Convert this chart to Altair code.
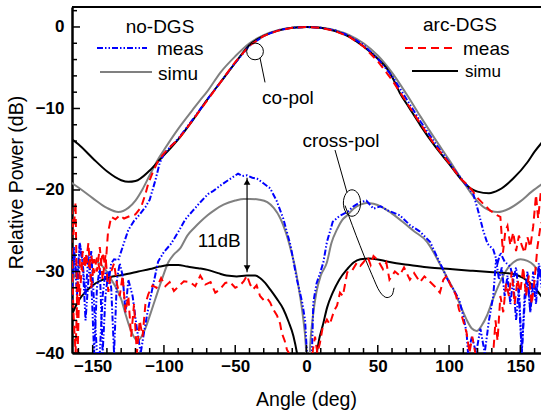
import altair as alt
import pandas as pd

# ---------------- data (angle in deg, relative power in dB) ----------------
# co-pol, arc-DGS, simulated (black)
cop_arc_simu_ang = [-165,-160,-150,-140,-130,-125,-120,-110,-102,-95,-90,-80,-70,-60,-50,-40,-30,-20,-10,0,
                    10,20,30,40,50,56,60,65.5,72,80,90,100,109,115,120,128,135,145,155,160,165]
cop_arc_simu_db = [-13.7,-14.4,-16.1,-17.7,-18.8,-19.0,-18.9,-17.6,-16.1,-14.8,-13.8,-11.5,-9.0,-6.7,-4.4,-2.2,-1.1,-0.45,-0.1,0,
                   -0.1,-0.5,-1.2,-2.4,-3.9,-5.0,-6.1,-8.1,-9.9,-12.1,-14.6,-16.8,-18.8,-19.8,-20.2,-20.4,-20.0,-18.6,-16.6,-15.3,-14.2]

# co-pol, no-DGS, simulated (gray)
cop_no_simu_ang = [-165,-160,-150,-140,-132,-125,-120,-115,-110,-104,-100,-90,-80,-74.7,-70,-60,-50,-40,-30,-20,
                   -10,0,10,20,30,40,50,60,70,80,90,100,110,118,125,134,142,150,158,165]
cop_no_simu_db = [-19.1,-19.7,-21.0,-22.2,-22.7,-22.2,-21.3,-19.9,-18.2,-16.2,-15.1,-12.5,-10.2,-9.0,-8.0,-5.5,-3.6,-2.0,-1.0,-0.4,
                  -0.1,0,-0.1,-0.4,-1.0,-2.0,-3.5,-5.6,-8.2,-11.0,-13.7,-16.3,-19.0,-21.0,-22.2,-22.7,-22.3,-21.4,-20.2,-19.3]

# co-pol, no-DGS, measured (blue)
cop_no_meas_ang = [-165,-163,-161,-159,-157,-155,-153,-151,-149,-147,-145,-143,-141,-139,-137,-135,-132,-129,-125,-121,
                   -117,-113,-110,-106,-103,-100,-95,-90,-80,-70,-60,-50,-40,-30,-20,-10,0,10,20,30,
                   40,50,60,70,80,90,100,105,110,113,117,120,124,127,131,134,136,139,143,145,
                   147,149,151,153,155,157,159,161,163,165]
cop_no_meas_db = [-30,-27,-33,-26.5,-29,-36,-31,-27.5,-34,-40,-40,-33,-30,-31.5,-29,-28.5,-28.6,-27,-24.9,-23.8,
                  -23,-22.1,-21.2,-18.8,-16.7,-15.6,-14.6,-13.7,-11.4,-9.0,-6.7,-4.4,-2.3,-1.1,-0.4,-0.1,0,-0.1,-0.4,-1.1,
                  -2.2,-3.9,-6.0,-8.8,-11.6,-14.2,-16.6,-17.8,-18.9,-19.6,-20.5,-22.3,-25,-26.6,-27.3,-29,-27.7,-28.8,-29.4,-31,
                  -29.5,-33,-40,-34,-31,-35,-30,-33,-29.5,-32]

# co-pol, arc-DGS, measured (red)
cop_arc_meas_ang = [-165,-163.5,-162,-160.5,-159,-157,-155,-153,-151,-149,-147,-145,-143,-141,-139.3,-137,-134,-131,-128,-124,
                    -120,-116,-113,-111,-108,-104,-100,-95,-90,-80,-70,-60,-50,-40,-30,-20,-10,0,10,20,
                    30,40,50,60,70,80,90,100,108,113,116,119.6,124,128.7,133.6,136,137.8,139.5,141,143,
                    145,147,149,151,153,155,157,159,161,162.5,164.5]
cop_arc_meas_db = [-22,-25.5,-21.5,-40,-28.5,-30,-27.8,-29.5,-28,-30.2,-28.3,-29.8,-27.7,-29.5,-25.3,-23.3,-23.6,-23.1,-23.5,-23.2,
                   -23.0,-22.1,-20.5,-19.2,-17.9,-16.4,-15.5,-14.6,-13.8,-11.5,-9.1,-6.7,-4.3,-2.3,-1.1,-0.45,-0.1,0,-0.1,-0.5,
                   -1.2,-2.4,-4.2,-6.5,-9.2,-11.9,-14.5,-16.7,-18.6,-19.4,-20.0,-20.9,-21.7,-22.5,-23.1,-23.3,-27.7,-25,-24.4,-26.8,
                   -25.2,-27.5,-25.6,-26.8,-27.7,-25.8,-27,-24.5,-20.6,-23.5,-20]

# cross-pol, no-DGS, measured (blue)
xp_no_meas_ang = [-165,-163,-161,-159,-157,-155,-153,-151,-149,-147,-145,-143,-141,-139,-137,-135,-133,-131,-129,-127,
                  -125,-122,-119,-116.3,-114,-111.2,-108,-104.1,-100,-95,-89.8,-85,-80,-74.5,-69.1,-65.3,-60,-55,-51.5,-48,
                  -45,-41.8,-38,-34.7,-30,-25.5,-21,-16.3,-11.2,-6.7,-3.0,-1,0.3,2,3.8,4.8,7,9.5,11.8,14.3,
                  18.4,23,28.6,33,37.8,42,47,52,57,65.4,72.5,79.6,86.8,91,96,99,103.1,107.2,110,112.3,
                  113.3,116,119,122,125,128,131,133,135,137,139,141,143,145,147,149,151,153,155,157,
                  159,161,163,165]
xp_no_meas_db = [-34,-28,-31,-26.5,-29,-33,-28,-31,-40,-32,-29.5,-40,-33,-30,-32,-40,-31,-29,-30.5,-35,
                 -31,-33,-37,-40,-37.5,-34.7,-32,-28.8,-27.6,-26.6,-25.1,-23.6,-22.6,-21.5,-20.5,-20.1,-19.4,-18.8,-18.4,-18.0,
                 -18.3,-18.2,-18.5,-18.6,-19.2,-19.8,-21.3,-23.5,-26.8,-31,-33.8,-36,-40,-45,-40,-33.8,-31.5,-30.2,-28.9,-26.4,
                 -23.9,-23.2,-22.7,-22.0,-21.5,-21.3,-22.3,-22.0,-22.5,-23.1,-24.3,-25.1,-26.4,-28.0,-29.8,-31,-32.2,-33.5,-35.5,-37.5,
                 -40,-38,-40,-37,-40,-36,-33,-28.5,-31,-29.5,-33,-30.5,-34,-31,-36,-32,-40,-33,-30,-35,
                 -31.5,-34,-29,-31]

# cross-pol, no-DGS, simulated (gray)
xp_no_simu_ang = [-165,-160.2,-156,-153,-149,-146,-141,-136.8,-133,-130,-126.5,-123.5,-118.4,-113.3,-109.5,-106.1,-101.5,-97,-93,-88.8,
                  -83.2,-78.5,-74.5,-69.4,-64,-58.2,-50,-44,-39.8,-33,-27.5,-23,-18.3,-14.5,-11.2,-8,-5,-2.5,-0.5,1,
                  2.6,4.5,7,10,14.3,17.5,21.5,25,28.6,33,37.8,42,47,53,60,67.4,75,84.7,89,93.9,
                  98.5,103.1,108,112.3,116,119.4,123,126.6,131,135.8,140,145,150.1,155,159.3,164.5]
xp_no_simu_db = [-31.5,-29.7,-28.9,-28.6,-28.6,-28.9,-29.8,-31,-32.2,-33.4,-35.5,-37.1,-38.5,-37.1,-35.2,-33.4,-31,-28.9,-27.9,-27.2,
                 -25.5,-24.6,-23.9,-23.1,-22.4,-21.8,-21.3,-21.1,-21.1,-21.2,-21.5,-22.2,-23.5,-25.2,-27.2,-29.5,-32.5,-35.5,-39,-45,
                 -39,-35.5,-32.5,-30.5,-28.9,-26.5,-24.8,-23.7,-23.1,-22.3,-21.8,-21.6,-21.7,-22.1,-22.9,-23.9,-25,-26.4,-27.6,-29.2,
                 -30.7,-32.2,-34.2,-35.9,-37,-37.3,-36.6,-35.4,-33.3,-31.3,-29.9,-28.9,-28.5,-28.7,-29.2,-30.5]

# cross-pol, arc-DGS, simulated (black)
xp_arc_simu_ang = [-165,-162,-159.2,-155,-150,-144,-137.8,-132,-126,-118,-109.8,-103,-95.9,-90,-83.7,-76,-69.4,-62,-56.1,-49,
                   -41.8,-36,-32.6,-29,-25.5,-21,-16.3,-12.5,-9.2,-6.7,-5,5,7.2,9,11.3,14.5,18.4,23,28.6,33,
                   37.8,44.5,49,55,63,72.5,86,100.7,115,130.7,140,147,152,156,159.3,162,165]
xp_arc_simu_db = [-35.5,-34.3,-33.4,-32.5,-31.7,-31.1,-30.7,-30.5,-30.3,-30.0,-29.7,-29.4,-29.2,-29.2,-29.4,-29.6,-29.8,-30.2,-30.5,-30.6,
                  -30.5,-30.5,-30.8,-31.4,-32.2,-33.3,-34.6,-36.2,-37.9,-40,-42,-42,-40,-38.2,-36.7,-34.4,-32.6,-31,-29.7,-28.9,
                  -28.5,-28.4,-28.5,-28.7,-29,-29.2,-29.5,-29.7,-29.9,-30.1,-30.2,-30.4,-30.8,-31.3,-31.8,-32.4,-33.1]

# cross-pol, arc-DGS, measured (red)
xp_arc_meas_ang = [-165,-163.5,-162,-160.5,-159,-157,-155,-153,-151,-149,-147,-145,-143,-141,-139,-137,-135,-133,-131,-129,
                   -127,-125,-123,-121,-119,-117,-115,-113,-111,-108,-105.2,-102,-99,-96,-93,-89,-86,-81.6,-78,-74.5,
                   -71,-67.3,-64,-60.7,-57,-53.7,-50,-46.6,-44,-41.8,-39.5,-37.5,-35,-32.6,-30.6,-28,-25.5,-23.5,-20.7,-18.5,
                   -17.4,-15.3,-13.7,-12.3,-10,2,4.5,6,7.6,9.4,11.2,14.3,16.3,19.4,21.4,23.5,25.5,28.6,31.6,35.4,
                   37.8,39.8,42.9,45,47,50,53.6,56,58.2,62,65.3,68.4,72.5,75.5,79.6,82.7,86.8,89.8,93.6,96,
                   98.5,101,103,105,107,109,112.3,114.3,116.3,118.4,120,128,131,132.6,134,136,138,140,142,144,
                   146,148,150,152,154,156,158,160,162,164.5]
xp_arc_meas_db = [-25.5,-35,-40,-31,-33,-27.5,-29.5,-26.5,-32,-28.5,-30,-27,-31,-28,-32.5,-30,-29,-31.5,-33,-30.5,
                  -35,-33,-38,-34,-40,-36,-38,-34,-32.8,-31.7,-32,-30.8,-31.8,-31.3,-32.4,-31.7,-31.2,-31.3,-31.8,-30.5,
                  -31.6,-31.3,-32.6,-32.2,-31.4,-31.3,-32,-31.7,-31.2,-30.5,-31.6,-32.2,-31.7,-33,-33.4,-33.2,-33.8,-34.6,-35.4,-36.4,
                  -37.5,-38.5,-39.6,-40,-45,-45,-39.6,-38,-40,-38.8,-37,-35.9,-36.5,-34.8,-34.2,-32.6,-33,-30.1,-30,-28.9,
                  -29.3,-28.9,-28.2,-29.2,-28.1,-28.6,-29.7,-28.9,-31,-30,-30.5,-29.5,-31,-30.2,-31.3,-30.6,-31.3,-31.8,-32.6,-31,
                  -30.5,-31.7,-32.2,-33,-34.7,-35.5,-37.5,-40,-38,-40,-45,-45,-40,-36,-38.5,-33,-35,-31.5,-33,-30,
                  -34,-31,-32.5,-29.5,-33,-30.5,-34,-31,-27,-24]

# axis ticks
x_major = [-150, -100, -50, 0, 50, 100, 150]
x_minor = [-160,-140,-130,-120,-110,-90,-80,-70,-60,-40,-30,-20,-10,10,20,30,40,60,70,80,90,110,120,130,140,160]
y_major = [0, -10, -20, -30, -40]
y_minor = [2,-2,-4,-6,-8,-12,-14,-16,-18,-22,-24,-26,-28,-32,-34,-36,-38]

# annotations (data coordinates)
note_deg = [-13.0, 24.2, -61.2]
note_db = [-8.7, -14.0, -26.2]
note_text = ["co-pol", "cross-pol", "11dB"]
copol_ptr_deg = [-32.6, -29.1]
copol_ptr_db = [-3.8, -6.8]
copol_ring = (-36.1, -3.0)
xpol_ptr_deg = [20.0, 28.4]
xpol_ptr_db = [-15.1, -20.3]
xpol_ring = (31.9, -21.6)
xpol_hook_deg = [27.0, 37.5, 45.9, 51.5, 56.5, 60.0, 61.4]
xpol_hook_db = [-21.9, -26.8, -30.4, -32.5, -33.2, -32.9, -32.0]
arrow_deg = -41.7
arrow_top, arrow_bot = -18.5, -30.1

# ---------------- chart ----------------
W, H = 469, 346
FONT = "Liberation Sans"
xs = alt.Scale(domain=[-164.5, 164.5], nice=False, zero=False)
ys = alt.Scale(domain=[-40, 2.45], nice=False, zero=False)

xaxis = alt.Axis(values=x_major, ticks=False, grid=False, domainColor="black", domainWidth=2.5,
                 labelFont=FONT, labelFontSize=17, labelFontWeight="bold", labelColor="black",
                 labelPadding=5, labelFlush=False, labelOverlap=False,
                 title="Angle (deg)", titleFont=FONT, titleFontSize=19.5, titleFontWeight="normal",
                 titleColor="black", titleX=234, titleY=46, titleBaseline="middle", titleAlign="center")
yaxis = alt.Axis(values=y_major, ticks=False, grid=False, domainColor="black", domainWidth=2.5,
                 labelFont=FONT, labelFontSize=17, labelFontWeight="bold", labelColor="black",
                 labelPadding=8, labelFlush=False, labelOverlap=False,
                 title="Relative Power (dB)", titleFont=FONT, titleFontSize=19.5, titleFontWeight="normal",
                 titleColor="black", titleX=-56, titleY=175, titleBaseline="middle", titleAlign="center",
                 titleAngle=270)

X = alt.X("deg:Q", scale=xs, axis=xaxis)
Y = alt.Y("db:Q", scale=ys, axis=yaxis)


def curve(ang, db, color, width=2.0, dash=None, interp="linear"):
    df = pd.DataFrame({"deg": ang, "db": db})
    kw = dict(color=color, strokeWidth=width, clip=True, interpolate=interp)
    if dash is not None:
        kw["strokeDash"] = dash
    return alt.Chart(df).mark_line(**kw).encode(x=X, y=Y)


BLUE, RED, GRAY, BLACK = "#0000ff", "#ff0000", "#808080", "#000000"
BLUE_DASH = [6, 2, 1.5, 2, 1.5, 2]
RED_DASH = [8, 5]

layers = [
    curve(cop_no_simu_ang, cop_no_simu_db, GRAY, 2, interp="monotone"),
    curve(xp_no_simu_ang, xp_no_simu_db, GRAY, 2, interp="monotone"),
    curve(cop_arc_simu_ang, cop_arc_simu_db, BLACK, 2, interp="monotone"),
    curve(xp_arc_simu_ang, xp_arc_simu_db, BLACK, 2, interp="monotone"),
    curve(cop_no_meas_ang, cop_no_meas_db, BLUE, 2, BLUE_DASH),
    curve(xp_no_meas_ang, xp_no_meas_db, BLUE, 2, BLUE_DASH),
    curve(cop_arc_meas_ang, cop_arc_meas_db, RED, 2, RED_DASH),
    curve(xp_arc_meas_ang, xp_arc_meas_db, RED, 2, RED_DASH),
]

# inward ticks
layers.append(alt.Chart(pd.DataFrame({"deg": x_major})).mark_rule(color="black", strokeWidth=1.5)
              .encode(x=X, y=alt.value(H), y2=alt.value(H - 8)))
layers.append(alt.Chart(pd.DataFrame({"deg": x_minor})).mark_rule(color="black", strokeWidth=1.5)
              .encode(x=X, y=alt.value(H), y2=alt.value(H - 5)))
layers.append(alt.Chart(pd.DataFrame({"db": y_major})).mark_rule(color="black", strokeWidth=1.5)
              .encode(y=Y, x=alt.value(0), x2=alt.value(8)))
layers.append(alt.Chart(pd.DataFrame({"db": y_minor})).mark_rule(color="black", strokeWidth=1.5)
              .encode(y=Y, x=alt.value(0), x2=alt.value(5)))
# top frame line
layers.append(alt.Chart(pd.DataFrame({"k": [0]})).mark_rule(color="black", strokeWidth=2)
              .encode(x=alt.value(0), x2=alt.value(W), y=alt.value(0)))

# annotations
layers.append(alt.Chart(pd.DataFrame({"deg": note_deg, "db": note_db, "t": note_text}))
              .mark_text(font=FONT, fontSize=19, color="black", align="center", baseline="middle")
              .encode(x=X, y=Y, text="t:N"))
layers.append(curve(copol_ptr_deg, copol_ptr_db, BLACK, 1))
layers.append(curve(xpol_ptr_deg, xpol_ptr_db, BLACK, 1))
layers.append(curve(xpol_hook_deg, xpol_hook_db, BLACK, 1, interp="monotone"))
layers.append(alt.Chart(pd.DataFrame({"deg": [copol_ring[0]], "db": [copol_ring[1]]}))
              .mark_point(shape="circle", size=280, filled=False, color="black", strokeWidth=1, opacity=1)
              .encode(x=X, y=Y))
ELLIPSE = "M -0.65 0 A 0.65 1 0 1 0 0.65 0 A 0.65 1 0 1 0 -0.65 0 Z"
layers.append(alt.Chart(pd.DataFrame({"deg": [xpol_ring[0]], "db": [xpol_ring[1]]}))
              .mark_point(shape=ELLIPSE, size=700, filled=False, color="black", strokeWidth=1, opacity=1)
              .encode(x=X, y=Y))
layers.append(alt.Chart(pd.DataFrame({"deg": [arrow_deg], "db": [arrow_top], "db2": [arrow_bot]}))
              .mark_rule(color="black", strokeWidth=1.2)
              .encode(x=X, y=Y, y2="db2:Q"))
layers.append(alt.Chart(pd.DataFrame({"deg": [arrow_deg], "db": [arrow_top - 0.5]}))
              .mark_point(shape="triangle-up", size=45, filled=True, color="black", opacity=1)
              .encode(x=X, y=Y))
layers.append(alt.Chart(pd.DataFrame({"deg": [arrow_deg], "db": [arrow_bot + 0.5]}))
              .mark_point(shape="triangle-down", size=45, filled=True, color="black", opacity=1)
              .encode(x=X, y=Y))

# manual legends
base = alt.Chart(pd.DataFrame({"k": [0]}))


def lg_line(x1, x2, y, color, dash=None):
    kw = dict(color=color, strokeWidth=2)
    if dash is not None:
        kw["strokeDash"] = dash
    return base.mark_rule(**kw).encode(x=alt.value(x1), x2=alt.value(x2), y=alt.value(y))


def lg_text(x, y, t, align="left", size=19):
    return base.mark_text(font=FONT, fontSize=size, color="black", align=align, baseline="middle").encode(
        x=alt.value(x), y=alt.value(y), text=alt.value(t))


layers += [
    lg_text(88, 20, "no-DGS", align="center"),
    lg_line(25, 75, 41, BLUE, BLUE_DASH),
    lg_text(85, 42, "meas"),
    lg_line(28, 80, 65, GRAY),
    lg_text(86, 67, "simu"),
    lg_text(388, 18, "arc-DGS", align="center"),
    lg_line(333, 385, 41, RED, RED_DASH),
    lg_text(391, 42, "meas"),
    lg_line(340, 386, 64, BLACK),
    lg_text(393, 65, "simu", size=17),
]

chart = alt.layer(*layers).properties(
    width=W, height=H,
    padding={"left": 72, "top": 7, "right": 0, "bottom": 58},
    autosize=alt.AutoSizeParams(type="none"),
).configure_view(stroke=None)

chart.save("out.html", embed_options={"renderer": "svg", "actions": False})
